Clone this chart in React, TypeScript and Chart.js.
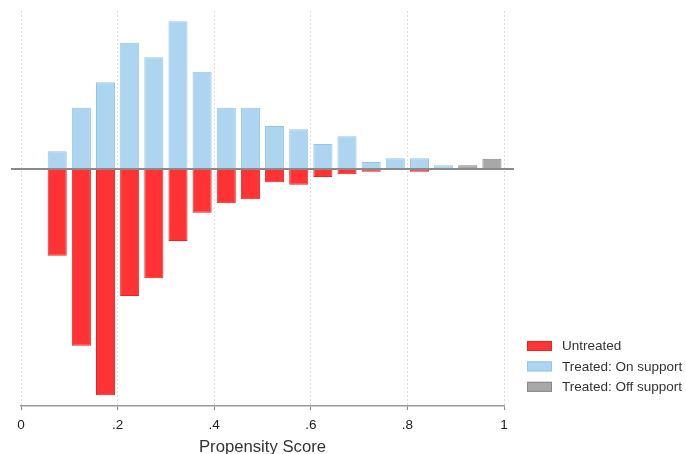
import React, { useEffect, useRef } from "react";
import { Chart, registerables } from "chart.js";

Chart.register(...registerables);

// Bin centres of the propensity-score histogram
const bins = [0.075, 0.125, 0.175, 0.225, 0.275, 0.325, 0.375, 0.425, 0.475, 0.525, 0.575, 0.625, 0.675, 0.725, 0.775, 0.825, 0.875, 0.925, 0.975];
// Treated: On support (upward)
const treatedOn = [1.77, 6.13, 8.67, 12.63, 11.17, 14.77, 9.73, 6.13, 6.13, 4.3, 3.97, 2.5, 3.27, 0.7, 1.07, 1.07, 0.37, 0, 0];
// Treated: Off support (upward)
const treatedOff = [0, 0, 0, 0, 0, 0, 0, 0, 0, 0, 0, 0, 0, 0, 0, 0, 0, 0.37, 1.03];
// Untreated (downward)
const untreated = [-8.67, -17.67, -22.63, -12.7, -10.93, -7.2, -4.37, -3.43, -3.03, -1.33, -1.57, -0.8, -0.53, -0.27, 0, -0.27, -0.1, 0, 0];
const xTicks = [0, 0.2, 0.4, 0.6, 0.8, 1];
const xLabels = ["0", ".2", ".4", ".6", ".8", "1"];
const seriesLabels = ["Untreated", "Treated: On support", "Treated: Off support"];

const FONT = "Arial, 'Liberation Sans', Helvetica, sans-serif";

const toPoints = (vals: number[]) =>
  bins.map((b, i) => ({ x: b, y: vals[i] === 0 ? null : vals[i] }));

export default function App() {
  const ref = useRef<HTMLCanvasElement | null>(null);

  useEffect(() => {
    document.body.style.margin = "0";
    const zeroLine = {
      id: "zeroLine",
      afterDatasetsDraw(chart: any) {
        const { ctx, chartArea, scales } = chart;
        const y = Math.round(scales.y.getPixelForValue(0));
        ctx.save();
        ctx.strokeStyle = "#8a8a8a";
        ctx.lineWidth = 2;
        ctx.beginPath();
        ctx.moveTo(chartArea.left - 10, y);
        ctx.lineTo(chartArea.right + 10, y);
        ctx.stroke();
        ctx.restore();
      },
    };
    const sideLegend = {
      id: "sideLegend",
      afterDraw(chart: any) {
        const { ctx, chartArea } = chart;
        const x0 = chartArea.right + 23;
        const yStart = 346;
        const step = 20.4;
        ctx.save();
        ctx.font = `13.5px ${FONT}`;
        ctx.textBaseline = "middle";
        chart.data.datasets.forEach((ds: any, i: number) => {
          const yc = yStart + i * step;
          ctx.fillStyle = ds.backgroundColor;
          ctx.fillRect(x0, yc - 5, 25, 10);
          ctx.strokeStyle = ds.borderColor;
          ctx.lineWidth = 1;
          ctx.strokeRect(x0 + 0.5, yc - 4.5, 24, 9);
          ctx.fillStyle = "#333";
          ctx.fillText(ds.label, x0 + 35, yc + 0.5);
        });
        ctx.restore();
      },
    };

    const chart = new Chart(ref.current as HTMLCanvasElement, {
      type: "bar",
      data: {
        datasets: [
          {
            label: seriesLabels[0],
            data: toPoints(untreated) as any,
            backgroundColor: "rgb(255,51,51)",
            borderColor: "rgb(228,38,38)",
            borderWidth: 1,
            grouped: false,
            barPercentage: 0.79,
            categoryPercentage: 1,
          } as any,
          {
            label: seriesLabels[1],
            data: toPoints(treatedOn) as any,
            backgroundColor: "rgb(173,213,240)",
            borderColor: "rgb(148,198,234)",
            borderWidth: 1,
            grouped: false,
            barPercentage: 0.79,
            categoryPercentage: 1,
          } as any,
          {
            label: seriesLabels[2],
            data: toPoints(treatedOff) as any,
            backgroundColor: "rgb(168,168,168)",
            borderColor: "rgb(135,135,135)",
            borderWidth: 1,
            grouped: false,
            barPercentage: 0.79,
            categoryPercentage: 1,
          } as any,
        ],
      },
      options: {
        animation: false,
        responsive: false,
        maintainAspectRatio: false,
        layout: { padding: { left: 21, right: 182, top: 11, bottom: 0 } },
        plugins: { legend: { display: false }, tooltip: { enabled: false } },
        scales: {
          x: {
            type: "linear",
            min: 0,
            max: 1,
            offset: false,
            afterBuildTicks: (scale: any) => {
              scale.ticks = xTicks.map((v) => ({ value: v }));
            },
            afterFit: (scale: any) => {
              scale.height = 48;
            },
            grid: {
              display: true,
              offset: false,
              color: "#dddddd",
              drawTicks: true,
              tickLength: 4,
              tickColor: "#8a8a8a",
              tickBorderDash: [],
            } as any,
            border: { display: true, color: "#9a9a9a", width: 1.5, dash: [2, 2] },
            ticks: {
              padding: 7,
              color: "#222",
              font: { family: FONT, size: 13.5 },
              maxRotation: 0,
              callback: (v: any) => {
                const idx = xTicks.findIndex((t) => Math.abs(t - Number(v)) < 1e-6);
                return idx >= 0 ? xLabels[idx] : "";
              },
            },
            title: {
              display: true,
              text: "Propensity Score",
              color: "#333",
              font: { family: FONT, size: 16.7, lineHeight: 0.8 },
              padding: { top: 0, bottom: 0 },
            },
          },
          y: {
            display: false,
            min: -23.7,
            max: 15.8,
          },
        },
      },
      plugins: [zeroLine, sideLegend],
    } as any);
    return () => chart.destroy();
  }, []);

  return (
    <div style={{ width: 686, height: 454 }}>
      <canvas ref={ref} width={686} height={454} style={{ display: "block" }} />
    </div>
  );
}
